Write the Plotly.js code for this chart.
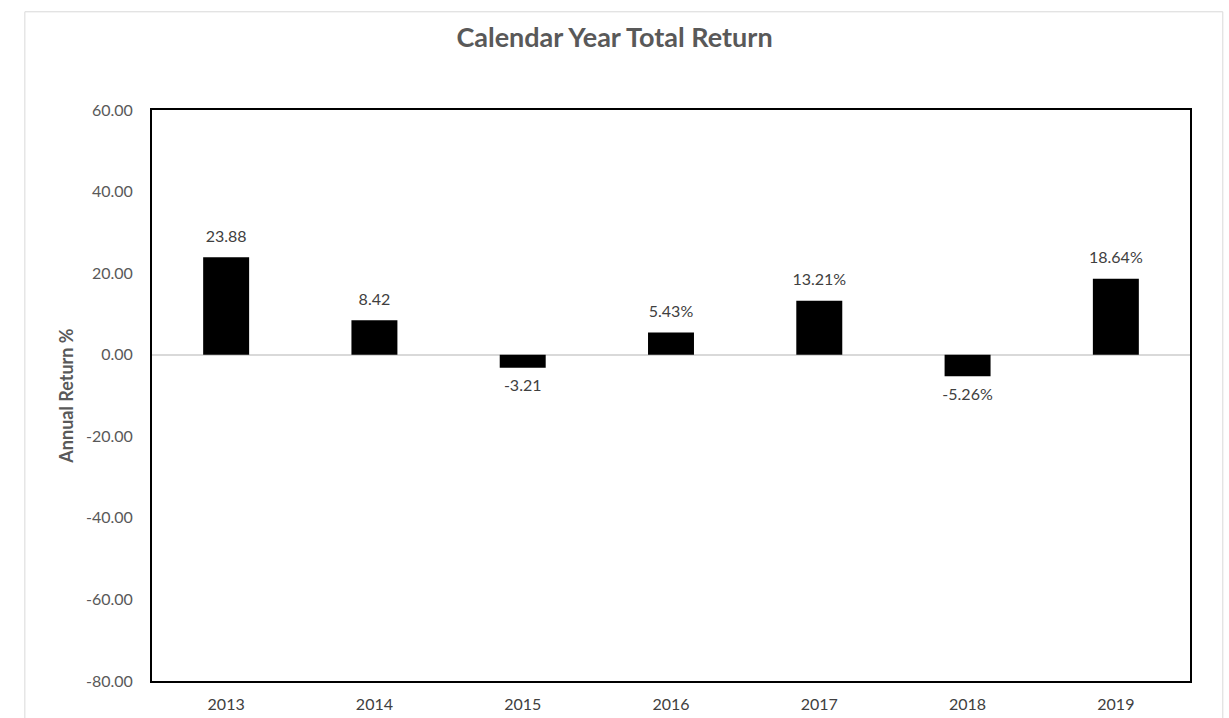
<!DOCTYPE html>
<html>
<head>
<meta charset="utf-8">
<script src="https://cdn.plot.ly/plotly-3.0.1.min.js"></script>
<style>html,body{margin:0;padding:0;background:#fff;}#chart{width:1229px;height:718px;}</style>
</head>
<body>
<div id="chart"></div>
<script>
var years = ['2013', '2014', '2015', '2016', '2017', '2018', '2019'];
var returns = [23.88, 8.42, -3.21, 5.43, 13.21, -5.26, 18.64];
var labels = ['23.88', '8.42', '-3.21', '5.43%', '13.21%', '-5.26%', '18.64%'];
var yTicks = [-80, -60, -40, -20, 0, 20, 40, 60];
var yTickText = ['-80.00', '-60.00', '-40.00', '-20.00', '0.00', '20.00', '40.00', '60.00'];

var fontFam = 'Lato, "Open Sans", sans-serif';
var bars = {
  type: 'bar',
  x: years,
  y: returns,
  marker: {color: '#000000'},
  hoverinfo: 'x+y'
};
var textTrace = {
  type: 'scatter',
  mode: 'markers+text',
  x: years,
  y: returns,
  text: labels,
  textposition: returns.map(function (v) { return v >= 0 ? 'top center' : 'bottom center'; }),
  textfont: {family: fontFam, size: 16, color: '#404040'},
  marker: {size: 17, opacity: 0, color: '#000'},
  cliponaxis: false,
  hoverinfo: 'skip'
};
var layout = {
  width: 1229, height: 718,
  margin: {l: 152, r: 39, t: 110, b: 37},
  paper_bgcolor: '#ffffff', plot_bgcolor: '#ffffff',
  bargap: 0.69,
  showlegend: false,
  title: {text: 'Calendar Year Total Return', x: 0.5, xanchor: 'center', y: 0.948, yanchor: 'middle',
          font: {family: fontFam, size: 27, color: '#595959', weight: 'bold'}},
  xaxis: {
    type: 'category', showgrid: false, zeroline: false,
    showline: true, linecolor: '#000', linewidth: 2, mirror: true,
    ticks: '', ticklabelstandoff: 8,
    tickfont: {family: fontFam, size: 16, color: '#404040'}
  },
  yaxis: {
    range: [-80, 60], tickvals: yTicks, ticktext: yTickText,
    showgrid: false, zeroline: true, zerolinecolor: '#d9d9d9', zerolinewidth: 2,
    showline: true, linecolor: '#000', linewidth: 2, mirror: true,
    ticks: '', ticklabelstandoff: 14,
    tickfont: {family: fontFam, size: 16, color: '#595959'},
    title: {text: 'Annual Return %', standoff: 8, font: {family: fontFam, size: 18, color: '#595959', weight: 'bold'}}
  },
  shapes: [{type: 'rect', xref: 'paper', yref: 'paper', x0: -0.1225, x1: 1.0316, y0: -0.067, y1: 1.172,
            line: {color: '#d9d9d9', width: 1}, layer: 'below'}]
};
Plotly.newPlot('chart', [bars, textTrace], layout, {displayModeBar: false, staticPlot: true});
</script>
</body>
</html>
